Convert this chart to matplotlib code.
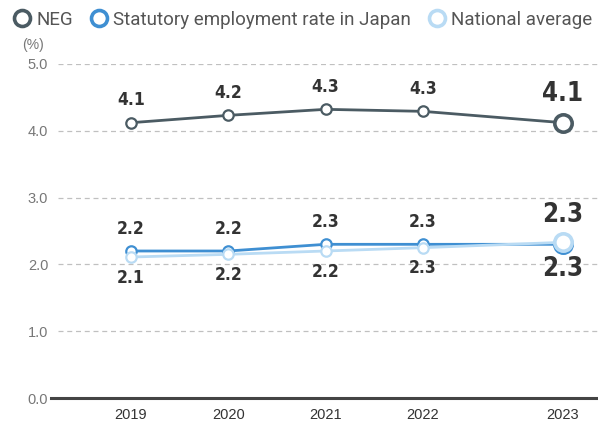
from decimal import Decimal, ROUND_HALF_UP

import matplotlib.pyplot as plt
from matplotlib.lines import Line2D

# employment rate of people with disabilities (%)
years = ['2019', '2020', '2021', '2022', '2023']
neg = [4.12, 4.23, 4.32, 4.29, 4.12]
statutory = [2.2, 2.2, 2.3, 2.3, 2.3]
national = [2.11, 2.15, 2.20, 2.25, 2.33]

# horizontal slots; the latest year is set a little apart
xpos = [0, 1, 2, 3, 4.44]

c_neg = '#4b5b63'
c_stat = '#3f8fd2'
c_nat = '#b9dbf4'


def fmt(v):
    # round half up, so 2.25 reads as 2.3
    return str(Decimal(str(v)).quantize(Decimal('0.1'), rounding=ROUND_HALF_UP))


fig = plt.figure(figsize=(5.98, 4.24), dpi=100)
ax = fig.add_axes([0.097, 0.0613, 0.903, 0.788])

ax.set_xlim(-0.75, 4.80)
ax.set_ylim(0, 5)


def draw_series(vals, color, z):
    ax.plot(xpos, vals, color=color, lw=2.0, zorder=z)
    ax.plot(xpos[:-1], vals[:-1], 'o', ms=7.5, mfc='white', mec=color,
            mew=1.6, zorder=z + 0.5)
    ax.plot(xpos[-1:], vals[-1:], 'o', ms=12.5, mfc='white', mec=color,
            mew=2.6, zorder=z + 0.5)


draw_series(statutory, c_stat, 3)
draw_series(national, c_nat, 4)
draw_series(neg, c_neg, 5)


def put_labels(vals, dy):
    for i, v in enumerate(vals):
        last = i == len(vals) - 1
        ax.annotate(fmt(v), (xpos[i], v), xytext=(0, dy * (1.3 if last else 1)),
                    textcoords='offset points', ha='center', va='center',
                    fontsize=18.5 if last else 12.5, fontweight='bold',
                    family='DejaVu Sans', fontstretch='condensed', color='#333333')


put_labels(neg, 16)
put_labels(statutory, 16)
put_labels(national, -15)

# axes styling
for s in ['top', 'right', 'left', 'bottom']:
    ax.spines[s].set_visible(False)
ax.plot([-0.013, 1], [0, 0], transform=ax.transAxes, color='#444444',
        lw=2.2, clip_on=False, zorder=6)

ax.set_yticks([0, 1, 2, 3, 4, 5])
ax.set_yticklabels([f'{t:.1f}' for t in range(6)])
ax.yaxis.grid(True, ls=(0, (4, 3)), color='#c0c0c0', lw=0.9)
ax.set_axisbelow(True)
ax.tick_params(axis='y', length=0, pad=7, labelsize=10.5, labelcolor='#777777')
for lbl in ax.get_yticklabels():
    lbl.set_family('Liberation Sans')

ax.set_xticks(xpos)
ax.set_xticklabels(years)
ax.tick_params(axis='x', length=0, pad=7, labelsize=10.5, labelcolor='#333333')
for lbl in ax.get_xticklabels():
    lbl.set_family('Liberation Sans')

fig.text(0.037, 0.885, '(%)', fontsize=10, color='#777777', family='Liberation Sans')

handles = [
    Line2D([], [], ls='none', marker='o', ms=11.5, mfc='white', mec=c_neg, mew=2.6),
    Line2D([], [], ls='none', marker='o', ms=11.5, mfc='white', mec=c_stat, mew=2.6),
    Line2D([], [], ls='none', marker='o', ms=11.5, mfc='white', mec=c_nat, mew=2.6),
]
fig.legend(handles, ['NEG', 'Statutory employment rate in Japan', 'National average'],
           loc='upper left', bbox_to_anchor=(-0.004, 1.015), ncol=3, frameon=False,
           handlelength=0.8, handletextpad=0.35, columnspacing=1.0,
           prop={'family': 'Roboto', 'size': 13.5}, labelcolor='#555555')

fig.savefig('out.png', dpi=100)
